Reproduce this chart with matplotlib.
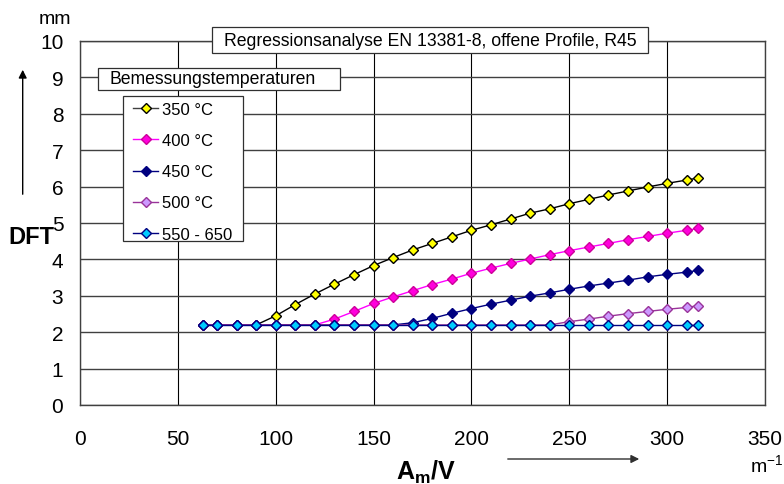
import matplotlib.pyplot as plt
from matplotlib.lines import Line2D
from matplotlib.patches import Rectangle

plt.rcParams['font.family'] = ['Liberation Sans', 'DejaVu Sans']
plt.rcParams['mathtext.fontset'] = 'custom'
plt.rcParams['mathtext.rm'] = 'Liberation Sans'
plt.rcParams['mathtext.bf'] = 'Liberation Sans:bold'

# section factor A_m/V in 1/m
am_v = [63, 70, 80, 90, 100, 110, 120, 130, 140, 150, 160, 170, 180, 190,
        200, 210, 220, 230, 240, 250, 260, 270, 280, 290, 300, 310, 316]

# dry film thickness in mm per design temperature
dft_350 = [2.2, 2.2, 2.2, 2.2, 2.45, 2.76, 3.05, 3.32, 3.58, 3.83, 4.05, 4.26, 4.44, 4.62,
           4.80, 4.95, 5.11, 5.27, 5.39, 5.53, 5.65, 5.77, 5.88, 5.99, 6.09, 6.18, 6.24]
dft_400 = [2.2, 2.2, 2.2, 2.2, 2.2, 2.2, 2.2, 2.36, 2.57, 2.79, 2.97, 3.14, 3.31, 3.46,
           3.62, 3.76, 3.89, 4.01, 4.13, 4.24, 4.34, 4.44, 4.54, 4.63, 4.72, 4.80, 4.85]
dft_450 = [2.2, 2.2, 2.2, 2.2, 2.2, 2.2, 2.2, 2.2, 2.2, 2.2, 2.2, 2.26, 2.38, 2.52,
           2.65, 2.77, 2.88, 2.99, 3.08, 3.18, 3.27, 3.35, 3.43, 3.52, 3.59, 3.65, 3.70]
dft_500 = [2.2, 2.2, 2.2, 2.2, 2.2, 2.2, 2.2, 2.2, 2.2, 2.2, 2.2, 2.2, 2.2, 2.2,
           2.2, 2.2, 2.2, 2.2, 2.2, 2.29, 2.36, 2.44, 2.51, 2.57, 2.63, 2.68, 2.73]
dft_550 = [2.2, 2.2, 2.2, 2.2, 2.2, 2.2, 2.2, 2.2, 2.2, 2.2, 2.2, 2.2, 2.2, 2.2,
           2.2, 2.2, 2.2, 2.2, 2.2, 2.2, 2.2, 2.2, 2.2, 2.2, 2.2, 2.2, 2.2]

labels = ['350 °C', '400 °C', '450 °C', '500 °C', '550 - 650']
series = [dft_350, dft_400, dft_450, dft_500, dft_550]
# (line colour, marker face, marker edge)
styles = [('#000000', '#ffff00', '#000000'),
          ('#ff00ff', '#ff00dd', '#cc0099'),
          ('#000080', '#000080', '#000080'),
          ('#993399', '#cc99ff', '#993399'),
          ('#000080', '#00ccff', '#000080')]

W, H = 784, 485
fig = plt.figure(figsize=(W / 100, H / 100), dpi=100)
ax = fig.add_axes([80 / W, 1 - 406 / H, 685 / W, 364 / H])


def fx(x):
    return x / W


def fy(y):
    return 1 - y / H


for vals, (lc, fc, ec) in zip(series, styles):
    ax.plot(am_v, vals, color=lc, lw=1, marker='D', markersize=5,
            markerfacecolor=fc, markeredgecolor=ec, markeredgewidth=1, zorder=3)

ax.set_xlim(0, 350)
ax.set_ylim(0, 10)
ax.set_xticks(range(0, 351, 50))
ax.set_yticks(range(0, 11))
ax.tick_params(length=0, labelsize=15)
ax.tick_params(axis='x', pad=17)
ax.tick_params(axis='y', pad=12)
ax.yaxis.grid(True, color='#404040', lw=1)
ax.xaxis.grid(True, color='#000000', lw=0.8)
ax.set_axisbelow(True)
for s in ax.spines.values():
    s.set_color('#404040')
    s.set_linewidth(1)


def frame(x0, y0, x1, y1):
    fig.add_artist(Rectangle((fx(x0), fy(y1)), fx(x1) - fx(x0), fy(y0) - fy(y1),
                             transform=fig.transFigure, facecolor='white',
                             edgecolor='#303030', lw=0.9, zorder=2))


# title box
frame(212, 28, 648, 54)
fig.text(fx(430), fy(41), 'Regressionsanalyse EN 13381-8, offene Profile, R45',
         ha='center', va='center', fontsize=12.7, zorder=3)

# legend header and legend box
frame(98, 69, 340, 91)
fig.text(fx(110), fy(80), 'Bemessungstemperaturen', ha='left', va='center',
         fontsize=12.7, zorder=3)
frame(123, 97, 243, 242)

handles = []
for (lc, fc, ec) in styles:
    handles.append(Line2D([], [], color=lc if lc != '#000000' else '#404040', lw=1,
                          marker='D', markersize=5, markerfacecolor=fc,
                          markeredgecolor=ec, markeredgewidth=1))
fig.legend(handles, labels, loc='upper left', bbox_to_anchor=(fx(133), fy(103)),
           frameon=False, fontsize=12, handlelength=1.5, handletextpad=0.25,
           labelspacing=0.97, borderpad=0, borderaxespad=0)

# axis annotations
fig.text(fx(55), fy(20), 'mm', ha='center', va='center', fontsize=14)
fig.text(fx(31), fy(238), 'DFT', ha='center', va='center', fontsize=17,
         fontweight='bold')
fig.text(fx(426), fy(472), r'$\mathbf{A}_{\mathbf{m}}\mathbf{/V}$', ha='center',
         va='center', fontsize=18)
fig.text(fx(767), fy(466), r'm$^{\mathregular{-1}}$', ha='center', va='center',
         fontsize=14)

ax.annotate('', xy=(22.7, H - 68), xytext=(22.7, H - 198), xycoords='figure pixels',
            textcoords='figure pixels', annotation_clip=False,
            arrowprops=dict(arrowstyle='-|>', color='black', lw=1, mutation_scale=12))
ax.annotate('', xy=(642, H - 460), xytext=(505, H - 460), xycoords='figure pixels',
            textcoords='figure pixels', annotation_clip=False,
            arrowprops=dict(arrowstyle='-|>', color='#303030', lw=1, mutation_scale=12))

fig.savefig('out.png', dpi=100)
